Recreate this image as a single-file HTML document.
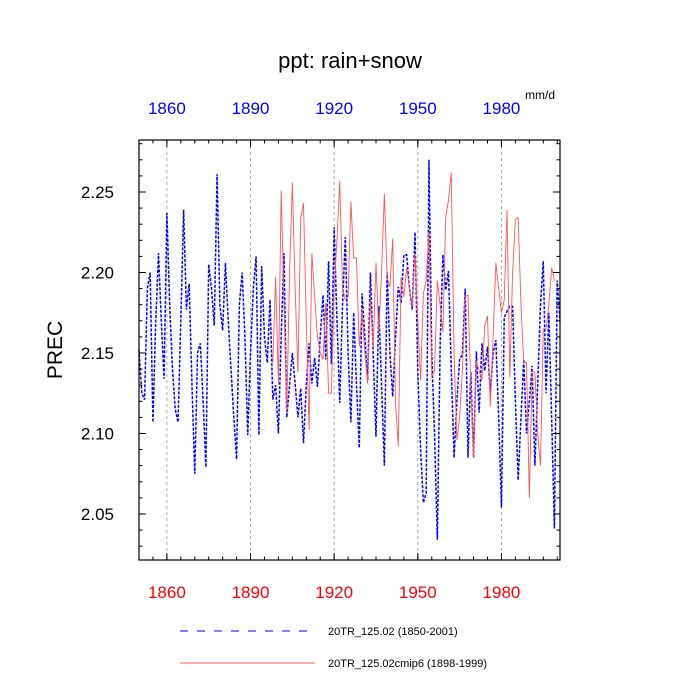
<!DOCTYPE html>
<html><head><meta charset="utf-8"><style>body{margin:0;background:#fff}svg{display:block}text{font-family:"Liberation Sans",sans-serif}</style></head>
<body>
<svg id="chart" width="700" height="700"></svg>
<script>
const blueStart = 1850;
const blueValues = [2.152,2.125,2.121,2.19,2.200,2.107,2.17,2.212,2.17,2.134,2.237,2.18,2.14,2.115,2.107,2.17,2.239,2.177,2.193,2.13,2.075,2.15,2.156,2.12,2.079,2.205,2.19,2.167,2.261,2.18,2.164,2.206,2.17,2.14,2.11,2.084,2.18,2.200,2.16,2.099,
2.15,2.19,2.210,2.099,2.204,2.16,2.144,2.183,2.121,2.130,2.100,2.16,2.212,2.110,2.13,2.150,2.131,2.110,2.128,2.094,2.13,2.156,2.131,2.147,2.129,2.16,2.186,2.146,2.207,2.143,2.228,2.17,2.119,2.18,2.222,2.15,2.107,2.175,2.13,2.091,2.187,2.16,2.133,2.200,2.15,2.098,2.179,2.13,2.080,2.20,2.15,2.123,2.16,2.191,2.181,2.211,2.211,2.19,2.177,2.225,2.138,2.09,2.057,2.063,2.270,2.15,2.10,2.034,2.154,2.211,2.189,2.201,2.14,2.085,2.12,2.146,2.149,2.190,2.085,2.138,2.085,2.151,2.113,2.156,2.139,2.154,2.125,2.150,2.158,2.11,2.054,2.172,2.176,2.179,2.179,2.12,2.071,2.11,2.146,2.100,2.12,2.142,2.080,2.13,2.18,2.207,2.125,2.175,2.11,2.041,2.195,2.17];
const redStart = 1898;
const redValues = [2.144,2.197,2.130,2.251,2.18,2.113,2.20,2.256,2.19,2.138,2.234,2.243,2.17,2.102,2.212,2.185,2.16,2.150,2.146,2.181,2.125,2.125,2.191,2.22,2.257,2.19,2.183,2.185,2.244,2.209,2.209,2.154,2.177,2.15,2.131,2.183,2.154,2.206,2.163,2.20,2.249,2.197,2.191,2.221,2.119,2.092,2.197,2.185,2.203,2.19,2.179,2.212,2.17,2.133,2.187,2.195,2.225,2.135,2.139,2.195,2.18,2.163,2.234,2.245,2.262,2.15,2.096,2.11,2.139,2.185,2.186,2.13,2.085,2.145,2.139,2.133,2.167,2.173,2.117,2.160,2.206,2.19,2.175,2.183,2.239,2.135,2.200,2.233,2.234,2.18,2.144,2.144,2.060,2.139,2.138,2.10,2.080,2.165,2.165,2.18,2.203,2.195];
const yTicks = [2.05,2.10,2.15,2.20,2.25];
const xTicks = [1860,1890,1920,1950,1980];

const NS="http://www.w3.org/2000/svg", svg=document.getElementById('chart');
const L=139,R=560,T=140,B=560, X0=1850,X1=2001, Y0=2.0214,Y1=2.2823;
const xs=v=>L+(v-X0)/(X1-X0)*(R-L);
const ys=v=>B-(v-Y0)/(Y1-Y0)*(B-T);
function mk(tag,a,txt){const e=document.createElementNS(NS,tag);for(const k in a)e.setAttribute(k,a[k]);if(txt!==undefined)e.textContent=txt;svg.appendChild(e);return e;}
let e;
e=mk('text',{x:350,y:68,'text-anchor':'middle','font-size':22},'ppt: rain+snow');


e=mk('text',{x:0,y:0,'text-anchor':'middle','font-size':21,transform:'translate(62,350) rotate(-90)'},'PREC');


e=mk('text',{x:525,y:99,'font-size':12},'mm/d');


xTicks.forEach(t=>{
  e=mk('line',{x1:xs(t),x2:xs(t),y1:T,y2:B,stroke:'#aaa','stroke-width':1,'stroke-dasharray':'3,3'});
  
  
  e=mk('text',{x:xs(t),y:598,'text-anchor':'middle','font-size':17,fill:'#f00'},t);
  
  
  e=mk('text',{x:xs(t),y:114,'text-anchor':'middle','font-size':17,fill:'#00f'},t);
  
  
  mk('line',{x1:xs(t),x2:xs(t),y1:B,y2:B-7,stroke:'#000'});
  mk('line',{x1:xs(t),x2:xs(t),y1:T,y2:T+7,stroke:'#000'});
});
for(let t=1850;t<=2000;t+=5){mk('line',{x1:xs(t),x2:xs(t),y1:B,y2:B-3.5,stroke:'#000'});mk('line',{x1:xs(t),x2:xs(t),y1:T,y2:T+3.5,stroke:'#000'});}
yTicks.forEach(t=>{
  e=mk('text',{x:114,y:ys(t)+6,'text-anchor':'end','font-size':17},t.toFixed(2));
  
  
  mk('line',{x1:L,x2:L+7,y1:ys(t),y2:ys(t),stroke:'#000'});
  mk('line',{x1:R,x2:R-7,y1:ys(t),y2:ys(t),stroke:'#000'});
});
for(let i=203;i<=228;i++){const t=i/100;mk('line',{x1:L,x2:L+3.5,y1:ys(t),y2:ys(t),stroke:'#000'});mk('line',{x1:R,x2:R-3.5,y1:ys(t),y2:ys(t),stroke:'#000'});}
e=mk('polyline',{points:blueValues.map((v,i)=>xs(blueStart+i)+','+ys(v)).join(' '),fill:'none',stroke:'#00f','stroke-width':1.5,'stroke-dasharray':'3,1.5'});


e=mk('polyline',{points:redValues.map((v,i)=>xs(redStart+i)+','+ys(v)).join(' '),fill:'none',stroke:'#f55','stroke-width':0.9});


e=mk('rect',{x:L,y:T,width:R-L,height:B-T,fill:'none',stroke:'#000','stroke-width':1.2});


e=mk('line',{x1:180,x2:315,y1:631,y2:631,stroke:'#00f','stroke-dasharray':'8,9'});


e=mk('text',{x:328,y:635,'font-size':11},'20TR_125.02 (1850-2001)');


e=mk('line',{x1:180,x2:315,y1:663,y2:663,stroke:'#f55'});


e=mk('text',{x:328,y:667,'font-size':11},'20TR_125.02cmip6 (1898-1999)');


</script>
</body></html>
